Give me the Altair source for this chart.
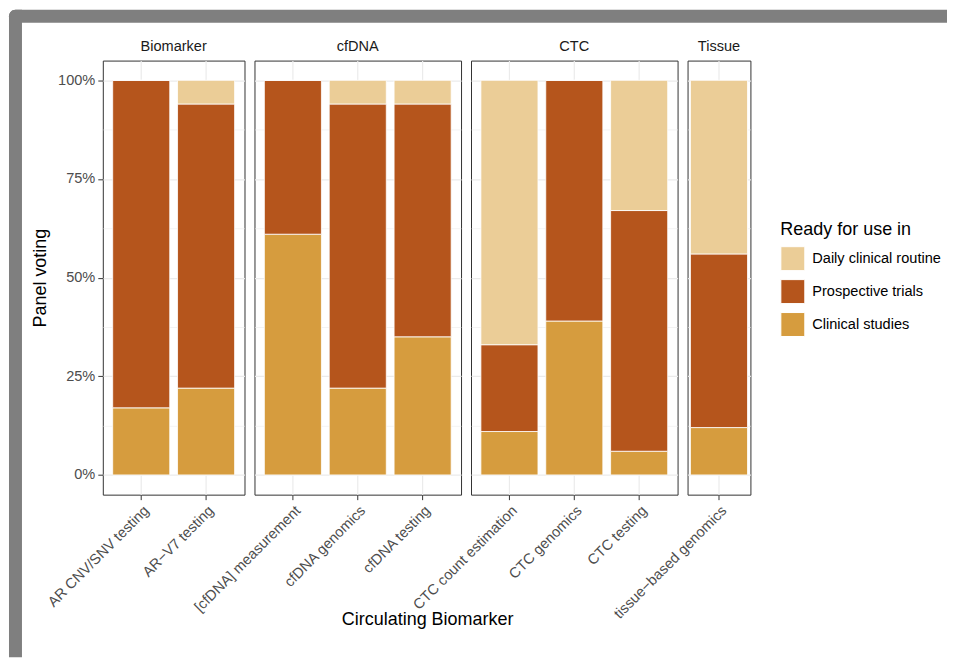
import altair as alt
import pandas as pd

groups = ["Biomarker", "Biomarker", "cfDNA", "cfDNA", "cfDNA", "CTC", "CTC", "CTC", "Tissue"]
categories = ["AR CNV/SNV testing", "AR\u2212V7 testing", "[cfDNA] measurement", "cfDNA genomics",
              "cfDNA testing", "CTC count estimation", "CTC genomics", "CTC testing",
              "tissue\u2212based genomics"]
clinical_studies = [17, 22, 61, 22, 35, 11, 39, 6, 12]
prospective_trials = [83, 72, 39, 72, 59, 22, 61, 61, 44]
daily_routine = [0, 6, 0, 6, 6, 67, 0, 33, 44]

level_names = ["Daily clinical routine", "Prospective trials", "Clinical studies"]
level_colors = ["#EBCD97", "#B5551C", "#D69C3E"]
panel_names = ["Biomarker", "cfDNA", "CTC", "Tissue"]
panel_widths = [142, 207, 207, 63]
y_ticks = [0, 0.125, 0.25, 0.375, 0.5, 0.625, 0.75, 0.875, 1.0]

rows = []
for g, c, cs, pt, dr in zip(groups, categories, clinical_studies, prospective_trials, daily_routine):
    for lvl, v, o in (("Clinical studies", cs, 0), ("Prospective trials", pt, 1),
                      ("Daily clinical routine", dr, 2)):
        rows.append({"group": g, "category": c, "level": lvl, "value": v / 100, "ord": o})
df = pd.DataFrame(rows)

FONT = "Liberation Sans"
PANEL_H = 435
MINOR = "datum.value % 0.25 != 0"
FRAME = "#7f7f7f"

legend = alt.Legend(
    title="Ready for use in", orient="none", legendX=679, legendY=161,
    titleFontSize=18, titleFontWeight="normal", titleColor="#000000", titleFont=FONT,
    titlePadding=7, labelFontSize=14.6, labelColor="#000000", labelFont=FONT,
    symbolType="square", symbolSize=576, symbolStrokeWidth=1, symbolStrokeColor="white",
    symbolOpacity=1, rowPadding=4, labelOffset=7,
)

color = alt.Color("level:N", scale=alt.Scale(domain=level_names, range=level_colors), legend=legend)


def make_panel(name, width, idx):
    cats = [c for c, g in zip(categories, groups) if g == name]
    n = len(cats)
    step = 65.0
    p_in = 0.12
    p_out = max(0.0, (width / step - n + p_in) / 2)
    common = dict(labelAngle=-45, labelAlign="right", labelBaseline="top", labelFontSize=14.6,
                  labelColor="#4d4d4d", labelFont=FONT, labelPadding=3, labelLimit=400,
                  tickSize=5, tickColor="#333333", tickWidth=1, domain=False, grid=True,
                  gridColor="#ebebeb", gridWidth=1.2, bandPosition=0.5)
    if name == "cfDNA":
        x_axis = alt.Axis(title="Circulating Biomarker", titleX=173, titleY=125, titleFontSize=18,
                          titleFont=FONT, titleFontWeight="normal", titleColor="#000000",
                          titleAlign="center", titleBaseline="middle", titleAngle=0, **common)
    else:
        x_axis = alt.Axis(title=None, **common)
    x = alt.X("category:N", sort=cats, title=None if name != "cfDNA" else "Circulating Biomarker",
              scale=alt.Scale(domain=cats, paddingInner=p_in, paddingOuter=p_out), axis=x_axis)

    grid_w = {"condition": {"test": MINOR, "value": 0.6}, "value": 1.2}
    if idx == 0:
        y_axis = alt.Axis(values=y_ticks,
                          labelExpr="datum.value % 0.25 == 0 ? format(datum.value, '.0%') : ''",
                          tickOpacity={"condition": {"test": MINOR, "value": 0}, "value": 1},
                          gridWidth=grid_w, gridColor="#ebebeb", tickSize=5, tickColor="#333333",
                          domain=False, labelFontSize=14.6, labelColor="#4d4d4d", labelFont=FONT,
                          labelPadding=3, title="Panel voting", titleFontSize=18, titleFont=FONT,
                          titleFontWeight="normal", titleColor="#000000", titlePadding=8)
    else:
        y_axis = alt.Axis(values=y_ticks, labels=False, ticks=False, domain=False, title=None,
                          grid=True, gridColor="#ebebeb", gridWidth=grid_w)
    y = alt.Y("value:Q", stack="zero",
              scale=alt.Scale(domain=[-0.05, 1.05], nice=False, zero=False), axis=y_axis)

    bars = alt.Chart(df[df.group == name]).mark_bar(stroke="white", strokeWidth=0.8).encode(
        x=x, y=y, color=color, order=alt.Order("ord:Q", sort="ascending"),
    )
    strip = alt.Chart(pd.DataFrame({"panel": [name]})).mark_text(
        font=FONT, fontSize=14.6, color="#1a1a1a", align="center", baseline="alphabetic"
    ).encode(text="panel:N", x=alt.value(width / 2), y=alt.value(-10))
    layers = [bars, strip]
    if idx == 0:
        one = pd.DataFrame({"k": [0]})
        top = alt.Chart(one).mark_rect(color=FRAME, cornerRadiusTopLeft=10).encode(
            x=alt.value(-94), x2=alt.value(846), y=alt.value(-51), y2=alt.value(-38))
        left = alt.Chart(one).mark_rect(color=FRAME, cornerRadiusTopLeft=10).encode(
            x=alt.value(-94), x2=alt.value(-81), y=alt.value(-51), y2=alt.value(598))
        layers = [top, left, bars, strip]
    return alt.layer(*layers).properties(width=width, height=PANEL_H)


panels = [make_panel(n, w, i) for i, (n, w) in enumerate(zip(panel_names, panel_widths))]
chart = alt.hconcat(*panels, spacing=10, bounds="flush").properties(
    padding=0, background="white"
).configure(font=FONT).configure_view(stroke="#333333", strokeWidth=1)

chart.save("out.html", embed_options={"renderer": "svg", "actions": False})
